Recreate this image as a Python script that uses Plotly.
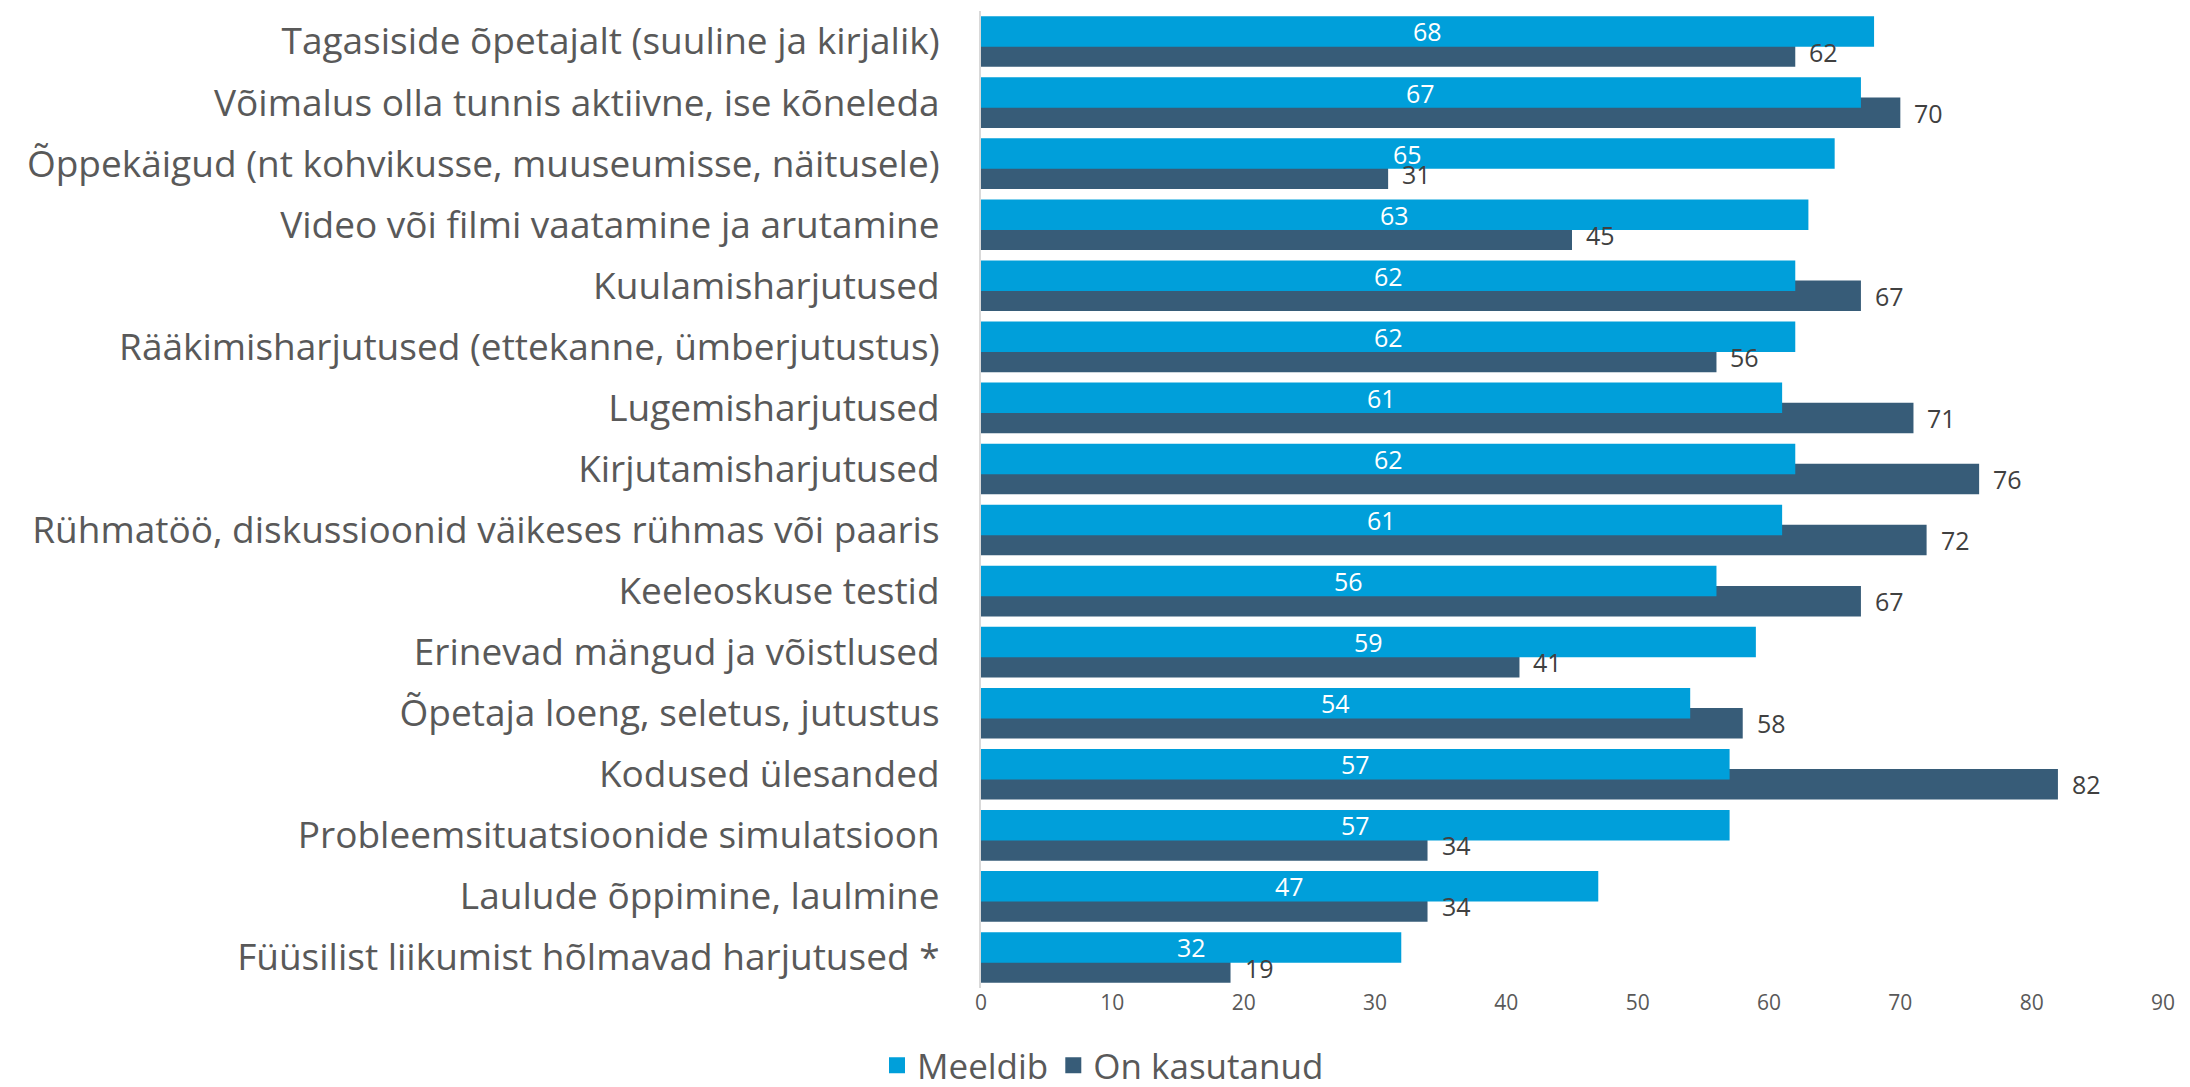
import plotly.graph_objects as go

categories = [
    "Tagasiside õpetajalt (suuline ja kirjalik)",
    "Võimalus olla tunnis aktiivne, ise kõneleda",
    "Õppekäigud (nt kohvikusse, muuseumisse, näitusele)",
    "Video või filmi vaatamine ja arutamine",
    "Kuulamisharjutused",
    "Rääkimisharjutused (ettekanne, ümberjutustus)",
    "Lugemisharjutused",
    "Kirjutamisharjutused",
    "Rühmatöö, diskussioonid väikeses rühmas või paaris",
    "Keeleoskuse testid",
    "Erinevad mängud ja võistlused",
    "Õpetaja loeng, seletus, jutustus",
    "Kodused ülesanded",
    "Probleemsituatsioonide simulatsioon",
    "Laulude õppimine, laulmine",
    "Füüsilist liikumist hõlmavad harjutused *",
]
meeldib = [68, 67, 65, 63, 62, 62, 61, 62, 61, 56, 59, 54, 57, 57, 47, 32]
kasutanud = [62, 70, 31, 45, 67, 56, 71, 76, 72, 67, 41, 58, 82, 34, 34, 19]
x_ticks = [0, 10, 20, 30, 40, 50, 60, 70, 80, 90]

C_BLUE = "#009FDA"
C_DARK = "#375C78"
GREY = "#595959"
FONT = "Open Sans, sans-serif"

pos = list(range(len(categories)))

fig = go.Figure()
fig.add_trace(go.Bar(
    name="On kasutanud", x=kasutanud, y=pos, orientation="h",
    marker=dict(color=C_DARK, line=dict(width=0)),
    offset=-0.085, width=0.5, showlegend=False,
))
fig.add_trace(go.Bar(
    name="Meeldib", x=meeldib, y=pos, orientation="h",
    marker=dict(color=C_BLUE, line=dict(width=0)),
    offset=-0.415, width=0.5, showlegend=False,
))
# legend entries with larger square swatches
fig.add_trace(go.Scatter(name="Meeldib", x=[None], y=[None], mode="markers",
                         marker=dict(symbol="square", size=20, color=C_BLUE), legendrank=1))
fig.add_trace(go.Scatter(name="On kasutanud", x=[None], y=[None], mode="markers",
                         marker=dict(symbol="square", size=20, color=C_DARK), legendrank=2))

for i, v in enumerate(meeldib):
    fig.add_annotation(x=v / 2, y=i - 0.165, text=str(v), showarrow=False,
                       xanchor="center", yanchor="middle",
                       font=dict(family=FONT, size=25, color="white"))
for i, v in enumerate(kasutanud):
    fig.add_annotation(x=v, y=i + 0.165, text=str(v), showarrow=False,
                       xanchor="left", yanchor="middle", xshift=12,
                       font=dict(family=FONT, size=25, color="#404040"))

fig.update_layout(
    width=2190, height=1087,
    margin=dict(l=973, r=35, t=3, b=107),
    barmode="overlay",
    plot_bgcolor="white", paper_bgcolor="white",
    font=dict(family=FONT, color=GREY),
    showlegend=True,
    legend=dict(orientation="h", xref="container", yref="container",
                x=0.5, xanchor="center", y=0.0, yanchor="bottom",
                font=dict(family=FONT, size=35, color=GREY),
                itemwidth=30, traceorder="normal"),
)
fig.update_xaxes(range=[0, 90], tickvals=x_ticks, showgrid=False, zeroline=False,
                 showline=False, ticks="", automargin=False,
                 tickfont=dict(family=FONT, size=21, color=GREY))
fig.update_yaxes(range=[len(categories) - 0.5, -0.5], tickvals=pos, ticktext=categories,
                 showgrid=False, zeroline=False, showline=True, linecolor="#D9D9D9",
                 linewidth=2, ticks="", ticklabelstandoff=32, automargin=False,
                 tickfont=dict(family=FONT, size=37, color=GREY))

fig.write_html("out.html")
